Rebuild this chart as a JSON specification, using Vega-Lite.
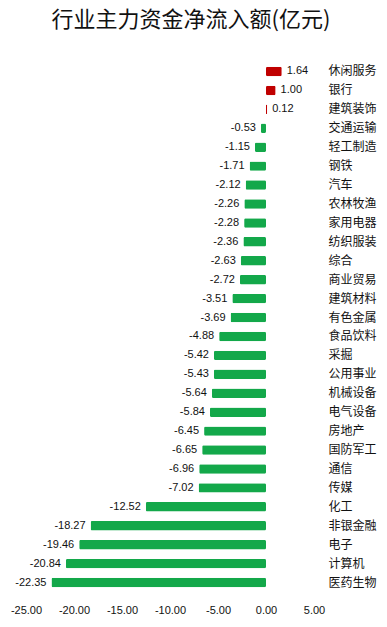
{
  "$schema": "https://vega.github.io/schema/vega-lite/v6.json",
  "autosize": "none",
  "width": 288,
  "height": 530,
  "padding": {"left": 26, "top": 62, "right": 73, "bottom": 35},
  "background": "white",
  "title": {"text": "行业主力资金净流入额(亿元)", "font": "Noto Sans CJK SC", "fontSize": 22, "fontWeight": "normal", "color": "#111111", "anchor": "middle", "dx": 21, "offset": 30},
  "data": {"values": [
    {"name": "休闲服务", "v": 1.64},
    {"name": "银行", "v": 1.00},
    {"name": "建筑装饰", "v": 0.12},
    {"name": "交通运输", "v": -0.53},
    {"name": "轻工制造", "v": -1.15},
    {"name": "钢铁", "v": -1.71},
    {"name": "汽车", "v": -2.12},
    {"name": "农林牧渔", "v": -2.26},
    {"name": "家用电器", "v": -2.28},
    {"name": "纺织服装", "v": -2.36},
    {"name": "综合", "v": -2.63},
    {"name": "商业贸易", "v": -2.72},
    {"name": "建筑材料", "v": -3.51},
    {"name": "有色金属", "v": -3.69},
    {"name": "食品饮料", "v": -4.88},
    {"name": "采掘", "v": -5.42},
    {"name": "公用事业", "v": -5.43},
    {"name": "机械设备", "v": -5.64},
    {"name": "电气设备", "v": -5.84},
    {"name": "房地产", "v": -6.45},
    {"name": "国防军工", "v": -6.65},
    {"name": "通信", "v": -6.96},
    {"name": "传媒", "v": -7.02},
    {"name": "化工", "v": -12.52},
    {"name": "非银金融", "v": -18.27},
    {"name": "电子", "v": -19.46},
    {"name": "计算机", "v": -20.84},
    {"name": "医药生物", "v": -22.35}
  ]},
  "encoding": {
    "y": {"field": "name", "type": "nominal", "sort": null,
      "scale": {"paddingInner": 0.5, "paddingOuter": 0.25},
      "axis": {"orient": "right", "title": null, "domain": false, "ticks": false, "labelAlign": "left", "labelPadding": 14, "labelFont": "Noto Sans CJK SC", "labelFontSize": 12, "labelColor": "#111111"}},
    "x": {"field": "v", "type": "quantitative",
      "scale": {"domain": [-25, 5], "nice": false, "zero": true},
      "axis": {"title": null, "grid": false, "domain": false, "ticks": false, "values": [-25, -20, -15, -10, -5, 0, 5], "format": ".2f", "labelFlush": false, "labelOverlap": false, "labelFont": "Liberation Sans", "labelFontSize": 11, "labelColor": "#111111", "labelPadding": 12}}
  },
  "layer": [
    {"mark": {"type": "bar", "cornerRadius": 1.5},
     "encoding": {"color": {"condition": {"test": "datum.v > 0", "value": "#c00000"}, "value": "#13a84a"}}},
    {"transform": [{"filter": "datum.v < 0"}],
     "mark": {"type": "text", "align": "right", "dx": -5, "font": "Liberation Sans", "fontSize": 11, "color": "#111111"},
     "encoding": {"text": {"field": "v", "type": "quantitative", "format": ".2f"}}},
    {"transform": [{"filter": "datum.v > 0"}],
     "mark": {"type": "text", "align": "left", "dx": 5, "font": "Liberation Sans", "fontSize": 11, "color": "#111111"},
     "encoding": {"text": {"field": "v", "type": "quantitative", "format": ".2f"}}}
  ],
  "config": {
    "view": {"stroke": null},
    "locale": {"number": {"decimal": ".", "thousands": ",", "grouping": [3], "currency": ["$", ""], "minus": "-"}}
  }
}
